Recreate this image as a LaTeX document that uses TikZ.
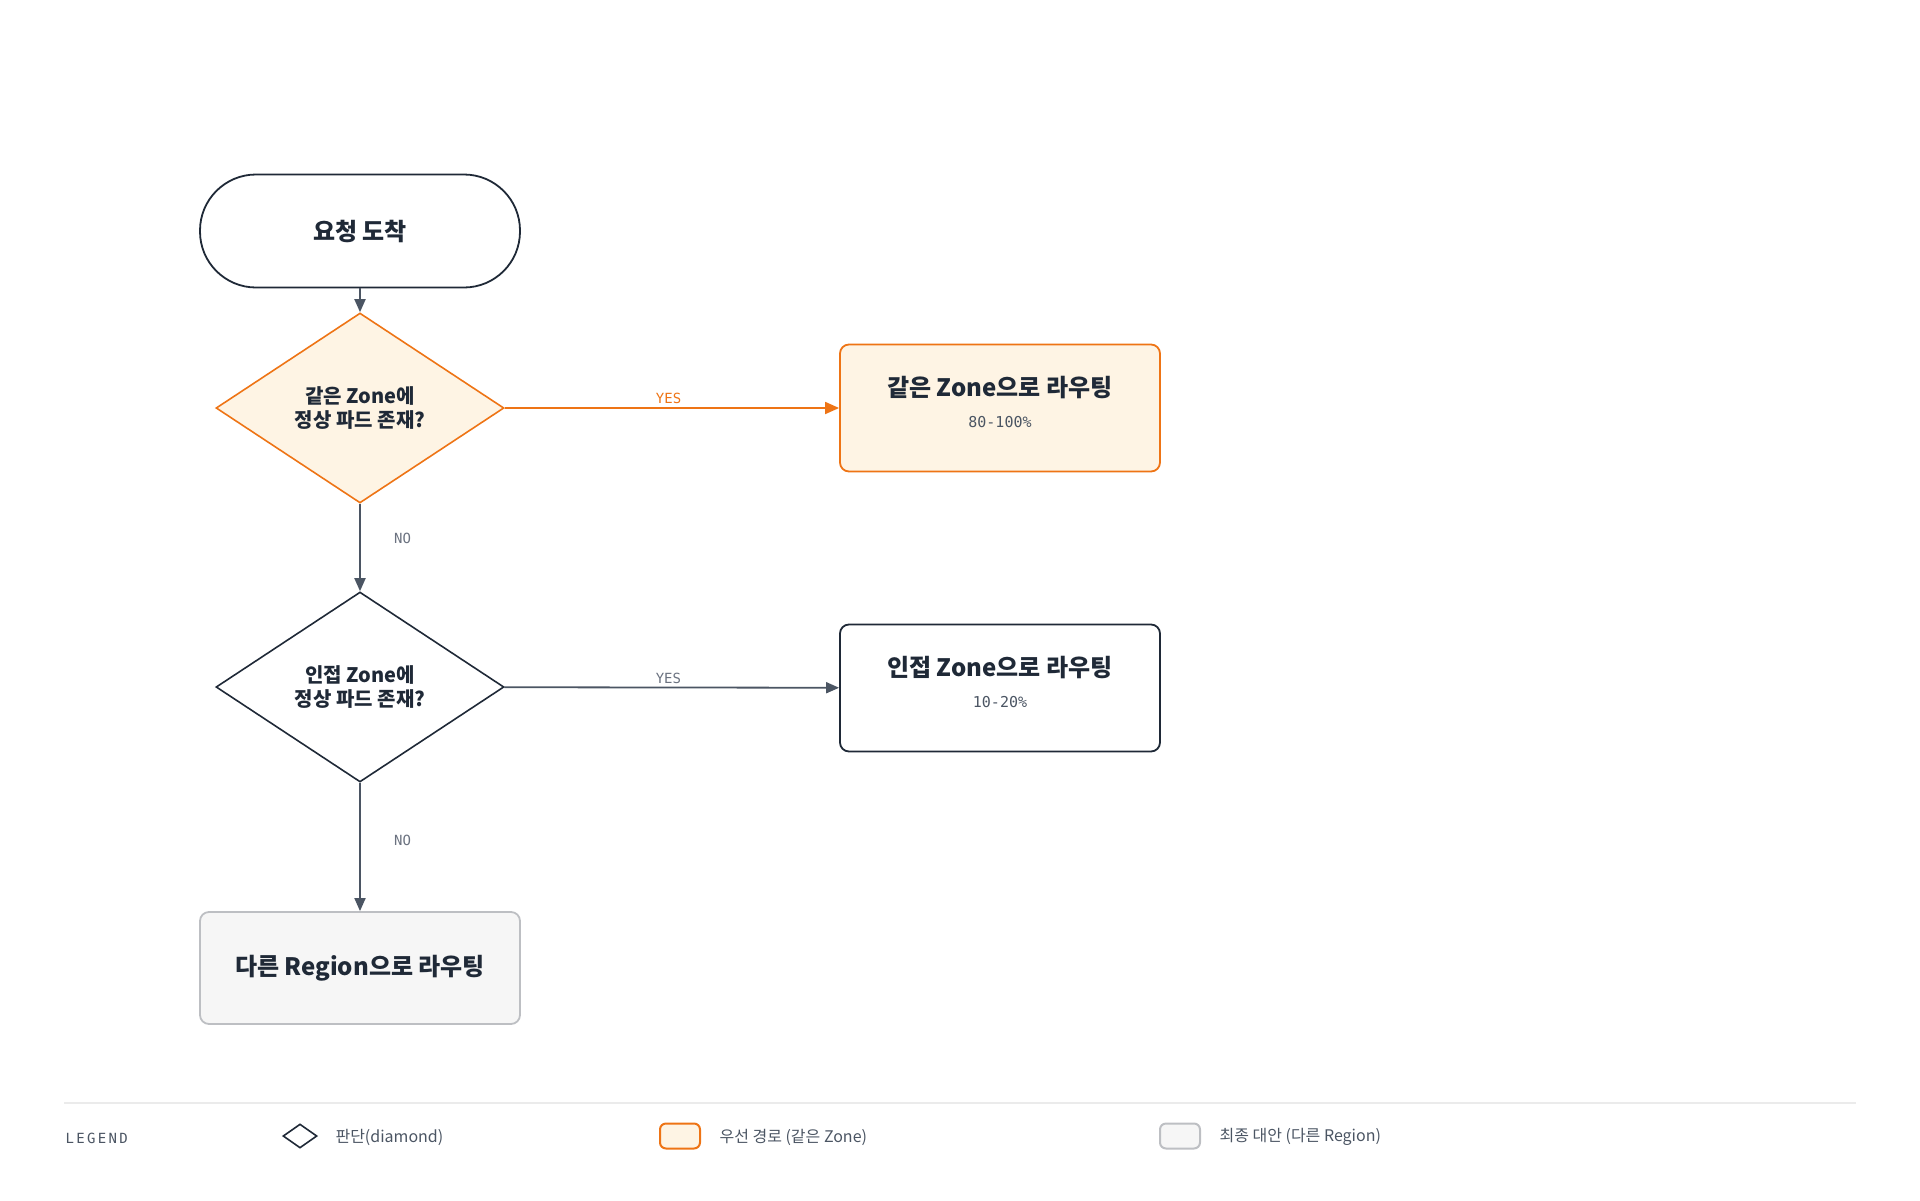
\documentclass[tikz,border=0pt]{standalone}
\usepackage{fontspec}
\setmainfont{Noto Sans CJK KR}
\newfontfamily\kr{Noto Sans CJK KR}
\newfontfamily\mono{DejaVu Sans Mono}
\usetikzlibrary{shapes.geometric,arrows.meta}
\definecolor{ink}{HTML}{1F2937}
\definecolor{org}{HTML}{EE7415}
\definecolor{orgfill}{HTML}{FEF4E4}
\definecolor{gfill}{HTML}{F6F6F6}
\definecolor{gline}{HTML}{BDBFC3}
\definecolor{arr}{HTML}{4B5563}
\definecolor{lbl}{HTML}{6B7280}
\tikzset{
 box/.style={draw=ink,line width=1.8pt,rounded corners=9pt,minimum width=320pt,minimum height=127pt,align=center,text=ink},
 dia/.style={diamond,draw=ink,line width=1.6pt,minimum width=288pt,minimum height=190pt,aspect=1.5,inner sep=0pt,align=center,text=ink,font=\kr\bfseries\fontsize{20}{24}\selectfont},
 title/.style={font=\kr\bfseries\fontsize{24}{28}\selectfont},
 sub/.style={font=\mono\fontsize{15}{18}\selectfont,text=arr},
 conn/.style={draw=arr,line width=1.8pt,-{Triangle[length=13pt,width=11pt]}},
 elab/.style={font=\mono\fontsize{14}{16}\selectfont,text=lbl},
 leg/.style={font=\kr\fontsize{16}{18}\selectfont,text=arr,anchor=west}
}
\begin{document}
\begin{tikzpicture}[x=1pt,y=-1pt]
\useasboundingbox (0,0) rectangle (1920,1200);
\node[box,rounded corners=56pt,minimum height=113pt,title] (start) at (360,231) {요청 도착};
\node[dia,draw=org,fill=orgfill] (d1) at (360,408) {같은 Zone에\\정상 파드 존재?};
\node[box,draw=org,fill=orgfill] (b1) at (1000,408) {};
\node[title,text=ink] at (1000,388) {같은 Zone으로 라우팅};
\node[sub] at (1000,422) {80-100\%};
\node[dia] (d2) at (360,687) {인접 Zone에\\정상 파드 존재?};
\node[box] (b2) at (1000,688) {};
\node[title,text=ink] at (1000,668) {인접 Zone으로 라우팅};
\node[sub] at (1000,702) {10-20\%};
\node[box,draw=gline,fill=gfill,minimum height=112pt,title] (b3) at (360,968) {다른 Region으로 라우팅};
\draw[conn] (start) -- (d1);
\draw[conn,draw=org,-{Triangle[length=14pt,width=12pt]},color=org] (d1) -- node[above,elab,text=org,pos=0.49]{YES} (b1);
\draw[conn] (d1) -- node[right,elab,xshift=30pt,pos=0.4]{NO} (d2);
\draw[conn] (d2) -- node[above,elab,pos=0.49]{YES} (b2);
\draw[conn] (d2) -- node[right,elab,xshift=30pt,pos=0.45]{NO} (b3);
% legend
\draw[color=black!8,line width=1.5pt] (64,1103) -- (1856,1103);
\node[font=\mono\fontsize{14}{16}\selectfont,text=arr,anchor=west] (lg) at (62,1138) {L\,E\,G\,E\,N\,D};
\node[diamond,draw=ink,line width=1.6pt,minimum width=34pt,minimum height=24pt,aspect=1.4,inner sep=0pt] (li1) at (300,1136) {};
\node[leg] (lt1) at (332,1137) {판단(diamond)};
\node[draw=org,fill=orgfill,line width=2pt,rounded corners=6pt,minimum width=40pt,minimum height=25pt] (li2) at (680,1136) {};
\node[leg] (lt2) at (716,1137) {우선 경로 (같은 Zone)};
\node[draw=gline,fill=gfill,line width=2pt,rounded corners=6pt,minimum width=40pt,minimum height=25pt] (li3) at (1180,1136) {};
\node[leg] (lt3) at (1216,1137) {최종 대안 (다른 Region)};
\end{tikzpicture}
\end{document}
